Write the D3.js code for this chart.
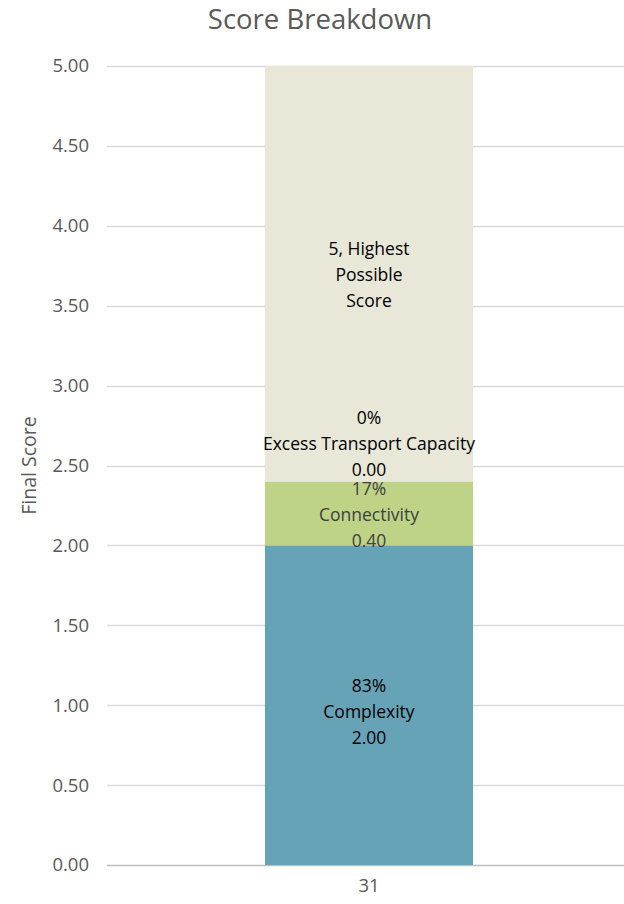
<!DOCTYPE html>
<html><head><meta charset="utf-8">
<script src="https://cdn.jsdelivr.net/npm/d3@7"></script>
<style>body{margin:0;background:#fff}svg{display:block}text{font-family:"Open Sans","Noto Sans",sans-serif}</style>
</head><body>
<script>
const categories = ["31"];
const seriesNames = ["Complexity", "Connectivity", "Excess Transport Capacity", "5, Highest Possible Score"];
const seriesValues = [2.00, 0.40, 0.00, 2.60];
const seriesPercents = ["83%", "17%", "0%", null];
const seriesColors = ["#67A3B7", "#BED386", "#E8E7D8", "#E8E7D8"];
const labelColors = ["#000000", "#404040", "#000000", "#000000"];
const yTicks = [0, 0.5, 1, 1.5, 2, 2.5, 3, 3.5, 4, 4.5, 5];

const W = 624, H = 904;
const FF = '"Open Sans","Noto Sans",sans-serif';
const margin = {left: 107, top: 66, bottom: 39};
const svg = d3.select("body").append("svg").attr("width", W).attr("height", H);

const y = d3.scaleLinear().domain([0, 5]).range([H - margin.bottom, margin.top]);
const x = d3.scaleBand().domain(categories).range([margin.left, 631]).paddingInner(0.603).paddingOuter(0.3015);

svg.append("text").attr("x", 320).attr("y", 29).attr("text-anchor", "middle")
  .attr("font-size", 27.5).attr("fill", "#595959").text("Score Breakdown");

// grid
svg.append("g").selectAll("line").data(yTicks).join("line")
  .attr("x1", margin.left).attr("x2", W)
  .attr("y1", d => Math.round(y(d)) + 0.5).attr("y2", d => Math.round(y(d)) + 0.5)
  .attr("stroke", d => d === 0 ? "#BFBFBF" : "#D9D9D9").attr("stroke-width", 1.5);

const yAxis = d3.axisLeft(y).tickValues(yTicks).tickFormat(d3.format(".2f")).tickSize(0).tickPadding(18);
const gy = svg.append("g").attr("transform", `translate(${margin.left},0)`).call(yAxis);
gy.select(".domain").remove();
gy.selectAll("text").attr("font-size", 18.5).attr("fill", "#595959").attr("font-family", FF);

const xAxis = d3.axisBottom(x).tickSize(0).tickPadding(14);
const gx = svg.append("g").attr("transform", `translate(0,${y(0)})`).call(xAxis);
gx.select(".domain").remove();
gx.selectAll("text").attr("font-size", 18.5).attr("fill", "#595959").attr("font-family", FF);

svg.append("text").attr("transform", `translate(36,${(y(0) + y(5)) / 2}) rotate(-90)`)
  .attr("text-anchor", "middle").attr("font-size", 19.5).attr("fill", "#595959").text("Final Score");

// stack
let cum = 0;
const segs = seriesValues.map((v, i) => { const s = {i, y0: cum, y1: cum + v, v}; cum += v; return s; });
const labelShift = [7, 2, -37, 1];

const bx = x(categories[0]), bw = x.bandwidth();
svg.append("g").selectAll("rect").data(segs).join("rect")
  .attr("x", bx).attr("width", bw)
  .attr("y", d => y(d.y1)).attr("height", d => y(d.y0) - y(d.y1))
  .attr("fill", d => seriesColors[d.i]);

const lh = 26;
segs.forEach(s => {
  let lines;
  if (s.i === 3) lines = ["5, Highest", "Possible", "Score"];
  else lines = [seriesPercents[s.i], seriesNames[s.i], d3.format(".2f")(s.v)];
  const cy = y((s.y0 + s.y1) / 2) + labelShift[s.i];
  const t = svg.append("text").attr("text-anchor", "middle").attr("font-size", 17.5)
    .attr("fill", labelColors[s.i]);
  lines.forEach((ln, k) => {
    t.append("tspan").attr("x", bx + bw / 2).attr("y", cy + (k - 1) * lh + 6).text(ln);
  });
});
</script>
</body></html>
